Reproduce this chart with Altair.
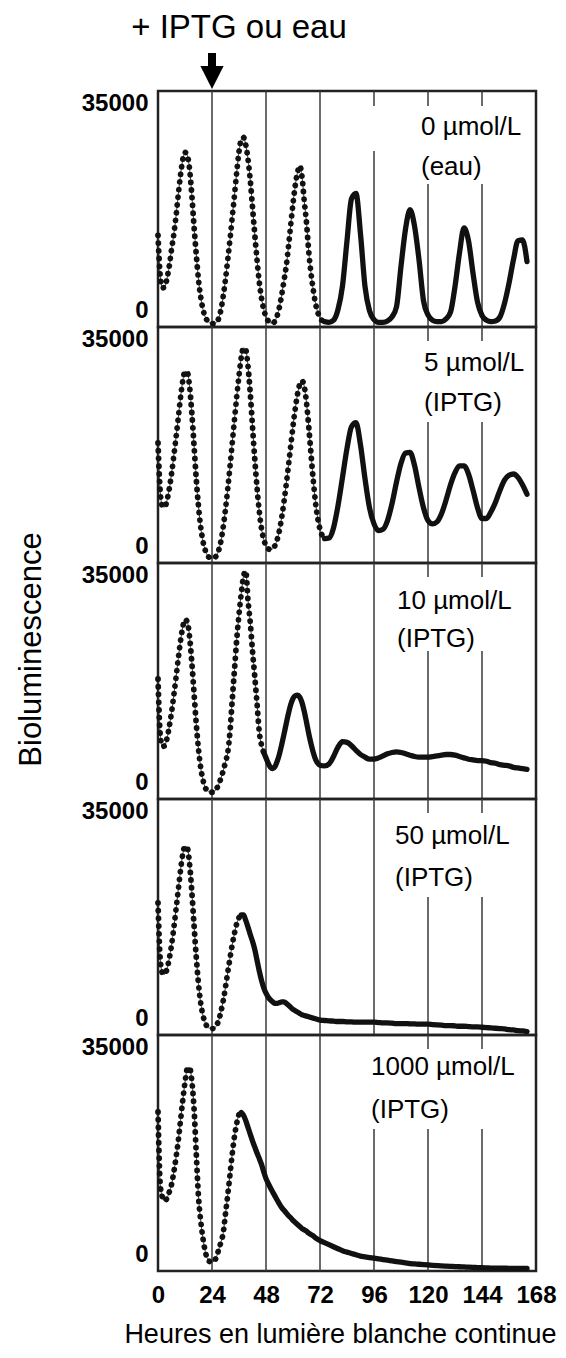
import altair as alt
import pandas as pd

# sampling times (hours): hourly up to 72 h, then every 2 h
HOURS = list(range(0, 73)) + list(range(74, 165, 2))

# Bioluminescence, one list per panel
P_0 = [13600, 7500, 5800, 5900, 7200, 9000, 11500, 13700, 16400, 19600,
       22500, 24800, 25900, 25500, 23500, 19700, 15000, 10800, 7000, 4400,
       2600, 1500, 900, 600, 500, 500, 700, 1300, 2600, 4600,
       7100, 10000, 13000, 16300, 19600, 23000, 26000, 27800, 28100, 27000,
       24900, 21800, 17800, 13800, 10000, 6700, 4300, 2600, 1500, 900,
       600, 600, 900, 1700, 3000, 4800, 6900, 9000, 12000, 15200,
       18300, 21000, 22900, 23900, 22300, 18700, 15500, 11200, 8000, 5500,
       3500, 2200, 1300,
       800, 700, 1000, 2600, 6100, 12800, 19000, 19800, 13800, 6000,
       2400, 1100, 700, 700, 900, 1500, 3000, 9000, 14500, 17400,
       15000, 10000, 3900, 1800, 1000, 800, 800, 1200, 2200, 6000,
       11000, 14700, 12800, 8000, 3700, 1700, 1000, 800, 900, 1500,
       3500, 6500, 10000, 12800, 12900, 9700]

P_5 = [17800, 10500, 8400, 8300, 9300, 11000, 13200, 15800, 18600, 21500,
       24500, 27000, 28400, 28300, 26300, 22400, 17500, 12500, 8400, 5300,
       3200, 1900, 1100, 800, 700, 800, 1100, 1900, 3300, 5400,
       8000, 11000, 14300, 17800, 21300, 24700, 27800, 30500, 31900, 31600,
       29200, 25200, 20300, 15500, 11200, 7700, 5100, 3500, 2600, 2100,
       2000, 2100, 2600, 3500, 4900, 6800, 9100, 11700, 14500, 17400,
       20300, 22900, 25000, 26500, 27000, 26200, 23800, 20200, 16200, 12300,
       9000, 6600, 5000,
       3600, 3700, 5200, 8500, 12700, 17000, 20200, 20800, 17500, 12500,
       8200, 5800, 4800, 5000, 6300, 8800, 12000, 14800, 16300, 16400,
       14500, 11200, 8200, 6300, 5800, 6100, 7300, 9300, 11600, 13400,
       14400, 14400, 13200, 10800, 8200, 6600, 6600, 7600, 9000, 10800,
       12300, 13000, 13200, 12700, 11600, 10200]

P_10 = [17800, 9500, 7800, 7900, 9000, 10700, 12800, 15300, 18000, 20800,
        23400, 25500, 26600, 26300, 24200, 20400, 15800, 11200, 7400, 4600,
        2800, 1700, 1200, 1000, 1000, 1100, 1500, 2200, 3100, 4200,
        5500, 6900, 10000, 14700, 19200, 23700, 27400, 30500, 33000, 33800,
        29500, 26200, 22000, 18200, 14200, 10000, 8000, 6900, 6100, 5300,
        4700, 4500, 4800, 5600, 6700, 8100, 9600, 11200, 12700, 14000,
        14900, 15300, 15400, 15100, 14300, 13000, 11400, 9700, 8200, 6900,
        5900, 5300, 5000,
        4900, 5200, 6300, 7700, 8500, 8400, 7900, 7200, 6600, 6200,
        5900, 5900, 6100, 6400, 6700, 6900, 7000, 6900, 6700, 6500,
        6300, 6200, 6200, 6200, 6300, 6400, 6500, 6600, 6600, 6500,
        6300, 6100, 5900, 5800, 5700, 5700, 5600, 5400, 5300, 5100,
        5000, 4900, 4700, 4600, 4500, 4400]

P_50 = [19600, 11200, 9200, 9000, 9800, 11300, 13300, 15800, 18600, 21500,
        24400, 26800, 28000, 27800, 25500, 21400, 16400, 11600, 7600, 4700,
        2900, 1800, 1200, 1000, 950, 1000, 1400, 2200, 3500, 5100,
        7100, 9300, 11400, 13400, 15100, 16500, 17400, 17800, 17800, 17000,
        16000, 14900, 13900, 12700, 11100, 9500, 8100, 7000, 6200, 5600,
        5200, 4900, 4700, 4700, 4800, 4900, 4900, 4700, 4400, 4100,
        3800, 3600, 3400, 3200, 3000, 2900, 2800, 2700, 2600, 2500,
        2400, 2300, 2200,
        2150, 2100, 2050, 2000, 2000, 1950, 1950, 1900, 1900, 1900,
        1900, 1900, 1850, 1800, 1800, 1750, 1700, 1700, 1700, 1650,
        1650, 1600, 1600, 1600, 1550, 1500, 1450, 1400, 1400, 1350,
        1300, 1300, 1250, 1200, 1200, 1150, 1100, 1050, 1000, 950,
        900, 800, 750, 650, 600, 500]

P_1000 = [23600, 12800, 10900, 10400, 10800, 11700, 12800, 14600, 16800, 19300,
          22300, 25300, 28000, 30000, 30200, 28300, 24200, 17500, 11000, 7400,
          4800, 2900, 1800, 1400, 1300, 1500, 2100, 3200, 4300, 5700,
          8500, 11300, 14300, 17400, 20000, 21900, 23200, 23500, 23100, 22300,
          21300, 20300, 19300, 18400, 17500, 16700, 15800, 14700, 13700, 13000,
          12300, 11700, 11100, 10500, 9900, 9400, 9000, 8600, 8200, 7900,
          7500, 7200, 6900, 6600, 6300, 6100, 5900, 5600, 5400, 5200,
          4900, 4700, 4500,
          4200, 3900, 3600, 3300, 3000, 2800, 2600, 2400, 2200, 2100,
          2000, 1900, 1800, 1700, 1600, 1500, 1400, 1300, 1200, 1100,
          1050, 1000, 950, 900, 850, 800, 750, 720, 690, 660,
          630, 600, 570, 540, 510, 480, 460, 440, 430, 420,
          410, 400, 400, 390, 390, 380]

SERIES = [P_0, P_5, P_10, P_50, P_1000]
CONC = ["0 µmol/L", "5 µmol/L", "10 µmol/L", "50 µmol/L", "1000 µmol/L"]
TREAT = ["(eau)", "(IPTG)", "(IPTG)", "(IPTG)", "(IPTG)"]
DOT_END = [74, 74, 47, 37, 37]          # where the dotted trace turns solid
X_TICKS = [0, 24, 48, 72, 96, 120, 144, 168]
Y_TICKS = [0, 35000]

# ---- layout / style (pixels) ----
W, H = 378, 236
FONT = "Liberation Sans"
INK = "#111111"
LABEL_X = [263, 266, 239, 237, 213]
LABEL_Y = [(36, 76), (36, 76), (38, 76), (37, 79), (32, 75)]
# vertical grid segments: (hour, top px, bottom px)
GRID = [
    [(24, 0, H), (48, 0, H), (72, 0, H), (96, 0, 15), (96, 60, H),
     (120, 0, 15), (120, 93, H), (144, 0, 15), (144, 93, H)],
    [(24, 0, H), (48, 0, H), (72, 0, H), (96, 0, H),
     (120, 0, 14), (120, 95, H), (144, 0, 14), (144, 95, H)],
    [(24, 0, H), (48, 0, H), (72, 0, H), (96, 0, H),
     (120, 0, 14), (120, 88, H), (144, 0, 14), (144, 88, H)],
    [(24, 0, H), (48, 0, H), (72, 0, H), (96, 0, H),
     (120, 0, 14), (120, 98, H), (144, 0, 14), (144, 98, H)],
    [(24, 0, H), (48, 0, H), (72, 0, H), (96, 94, H),
     (120, 0, 14), (120, 94, H), (144, 0, 14), (144, 94, H)],
]
YMAX = Y_TICKS[-1]


def px_to_val(p):
    return YMAX * (1 - p / H)


def make_panel(i):
    last = i == len(SERIES) - 1
    df = pd.DataFrame({"h": HOURS, "v": SERIES[i]})

    if last:
        xaxis = alt.Axis(values=X_TICKS, format="d", labelFlush=False, ticks=False,
                         domain=False, grid=False, labelFontSize=24,
                         labelFontWeight="bold", labelPadding=12, labelOverlap=False,
                         title="Heures en lumière blanche continue",
                         titleFontSize=27, titleFontWeight="normal",
                         titlePadding=14, titleX=182)
    else:
        xaxis = None
    x = alt.X("h:Q", scale=alt.Scale(domain=[0, 168], nice=False, zero=False),
              axis=xaxis)
    y = alt.Y("v:Q", scale=alt.Scale(domain=[0, YMAX], nice=False, zero=False),
              axis=alt.Axis(values=Y_TICKS, format="d", labelFlush=True, ticks=False,
                            domain=False, grid=False, labelFontSize=24,
                            labelFontWeight="bold", labelPadding=10,
                            labelOffset={"condition": {"test": "datum.value == 0",
                                                       "value": -5},
                                         "value": 0},
                            title="Bioluminescence", titleFontSize=31,
                            titleFontWeight="normal", titlePadding=34,
                            titleOpacity=1 if i == 2 else 0, titleY=86))

    gdf = pd.DataFrame({
        "h": [g[0] for g in GRID[i]],
        "v": [px_to_val(g[1]) for g in GRID[i]],
        "v2": [px_to_val(g[2]) for g in GRID[i]],
    })
    rules = alt.Chart(gdf).mark_rule(color="#3a3a3a", strokeWidth=1.5).encode(
        x=x, y=y, y2="v2:Q")

    thin = alt.Chart(df).mark_line(color="#444", strokeWidth=1,
                                   interpolate="monotone").encode(x=x, y=y)
    dots = alt.Chart(df).transform_filter(alt.datum.h <= DOT_END[i]).mark_line(
        color=INK, strokeWidth=5.8, strokeDash=[0.1, 7.6], strokeCap="round",
        interpolate="monotone").encode(x=x, y=y)
    solid = alt.Chart(df).transform_filter(alt.datum.h >= DOT_END[i]).mark_line(
        color=INK, strokeWidth=5.3, strokeCap="round", strokeJoin="round",
        interpolate="monotone").encode(x=x, y=y)

    lab1 = alt.Chart(pd.DataFrame({"t": [CONC[i]]})).mark_text(
        align="left", baseline="middle", fontSize=26, font=FONT, color="black"
    ).encode(x=alt.value(LABEL_X[i]), y=alt.value(LABEL_Y[i][0]), text="t:N")
    lab2 = alt.Chart(pd.DataFrame({"t": [TREAT[i]]})).mark_text(
        align="left", baseline="middle", fontSize=26, font=FONT, color="black"
    ).encode(x=alt.value(LABEL_X[i]), y=alt.value(LABEL_Y[i][1]), text="t:N")

    layers = [rules, thin, dots, solid, lab1, lab2]

    if i == 0:
        ax = 24 * W / 168
        one = pd.DataFrame({"t": ["+ IPTG ou eau"]})
        shaft = alt.Chart(one).mark_rule(color="black", strokeWidth=8).encode(
            x=alt.value(ax), y=alt.value(-38), y2=alt.value(-22))
        head = alt.Chart(one).mark_point(
            shape="M-1,-1L1,-1L0,1Z", filled=True, size=540, color="black",
            opacity=1, strokeWidth=0).encode(x=alt.value(ax), y=alt.value(-13.5))
        top = alt.Chart(one).mark_text(
            align="center", baseline="middle", fontSize=33, font=FONT,
            color="black").encode(x=alt.value(81), y=alt.value(-63), text="t:N")
        layers += [shaft, head, top]

    return alt.layer(*layers).properties(width=W, height=H)


chart = alt.vconcat(*[make_panel(i) for i in range(len(SERIES))],
                    spacing=0, bounds="flush").properties(
    padding={"left": 6, "top": 2, "right": 0, "bottom": 0}
).configure_view(stroke="#222", strokeWidth=2.5).configure_axis(
    labelFont=FONT, titleFont=FONT, labelColor="black", titleColor="black"
).configure_text(font=FONT)

chart.save("out.html", embed_options={"renderer": "svg", "actions": False})
